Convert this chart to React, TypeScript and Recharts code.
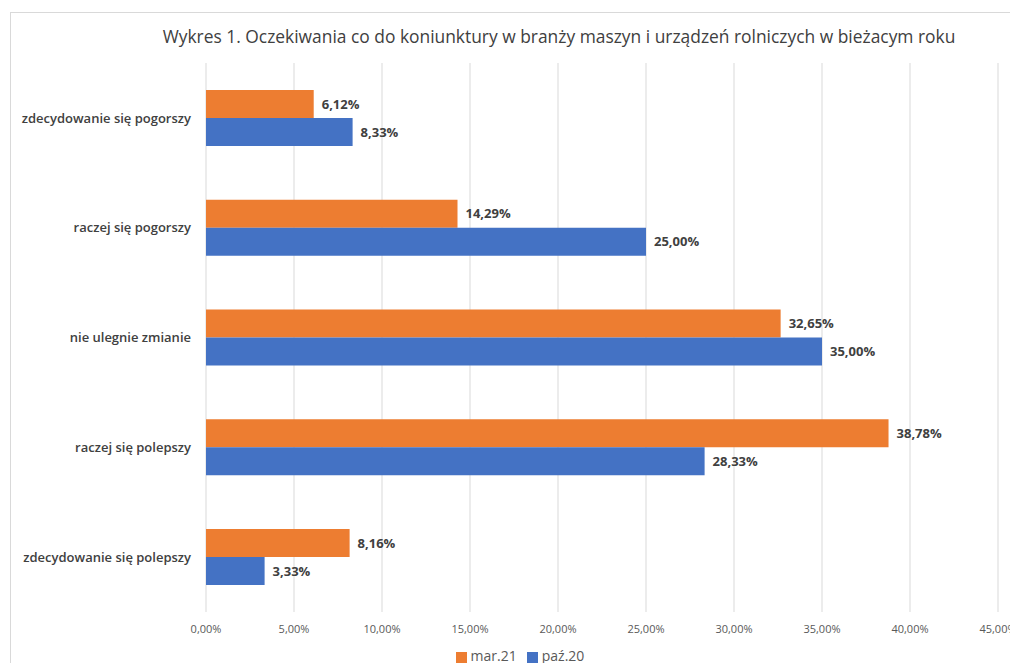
import React from "react";
import { BarChart, Bar, XAxis, YAxis, CartesianGrid, Legend, LabelList } from "recharts";

const categories = [
  "zdecydowanie się pogorszy",
  "raczej się pogorszy",
  "nie ulegnie zmianie",
  "raczej się polepszy",
  "zdecydowanie się polepszy",
];
const mar21 = [6.12, 14.29, 32.65, 38.78, 8.16];
const paz20 = [8.33, 25.0, 35.0, 28.33, 3.33];
const xTicks = [0, 5, 10, 15, 20, 25, 30, 35, 40, 45];
const seriesNames = ["mar.21", "paź.20"];

const data = categories.map((c, i) => ({ name: c, a: mar21[i], b: paz20[i] }));

const fmt = (v: number) => v.toFixed(2).replace(".", ",") + "%";

const labelStyle = { fontSize: 13, fontWeight: 700, fill: "#404040", fontFamily: "'Open Sans', sans-serif" };

export default function App() {
  return (
    <div style={{ position: "relative", width: 1018, height: 671, margin: -8, background: "#fff", overflow: "hidden" }}>
      <div style={{ position: "absolute", left: 10, top: 12, width: 1100, height: 700, border: "1px solid #d9d9d9" }} />
      <div
        style={{
          position: "absolute",
          left: 0,
          width: 1118,
          top: 24,
          textAlign: "center",
          fontFamily: "'Open Sans', sans-serif",
          fontSize: 17.4,
          color: "#404040",
        }}
      >
        Wykres 1. Oczekiwania co do koniunktury w branży maszyn i urządzeń rolniczych w bieżacym roku
      </div>
      <div style={{ position: "absolute", left: 0, top: 0 }}>
        <BarChart
          width={1018}
          height={671}
          data={data}
          layout="vertical"
          margin={{ top: 63, right: 20, bottom: 6, left: 0 }}
          barCategoryGap="24.5%"
          barGap={0}
        >
          <CartesianGrid horizontal={false} vertical={true} stroke="#d9d9d9" />
          <XAxis
            type="number"
            domain={[0, 45]}
            ticks={xTicks}
            tickFormatter={fmt}
            axisLine={false}
            tickLine={false}
            tickMargin={7}
            height={34}
            tick={{ fontSize: 11, fill: "#595959", fontFamily: "'Open Sans', sans-serif" }}
            interval={0}
          />
          <YAxis
            type="category"
            dataKey="name"
            width={206}
            axisLine={false}
            tickLine={false}
            tickMargin={9}
            tick={{ fontSize: 13, fill: "#404040", fontWeight: 600, fontFamily: "'Open Sans', sans-serif" }}
          />
          <Legend
            verticalAlign="bottom"
            align="center"
            iconType="square"
            iconSize={11}
            wrapperStyle={{ left: 0, width: 1050, fontFamily: "'Open Sans', sans-serif", fontSize: 14 }}
            formatter={(v: string) => <span style={{ color: "#595959" }}>{v}</span>}
          />
          <Bar dataKey="a" name={seriesNames[0]} fill="#ED7D31" isAnimationActive={false}>
            <LabelList dataKey="a" position="right" offset={8} formatter={(v: number) => fmt(v)} style={labelStyle} />
          </Bar>
          <Bar dataKey="b" name={seriesNames[1]} fill="#4472C4" isAnimationActive={false}>
            <LabelList dataKey="b" position="right" offset={8} formatter={(v: number) => fmt(v)} style={labelStyle} />
          </Bar>
        </BarChart>
      </div>
    </div>
  );
}
